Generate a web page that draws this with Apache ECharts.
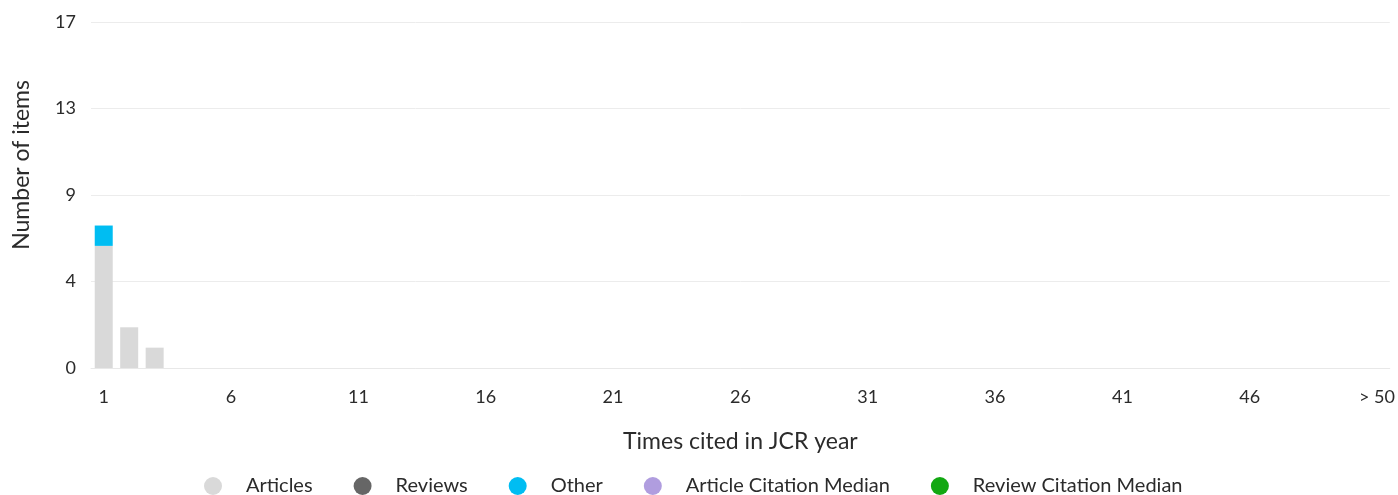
<!DOCTYPE html>
<html>
<head>
<meta charset="utf-8">
<script src="https://cdn.jsdelivr.net/npm/echarts@6/dist/echarts.min.js"></script>
<style>
html,body{margin:0;padding:0;background:#fff;}
#chart{width:1398px;height:495px;}
</style>
</head>
<body>
<div id="chart"></div>
<script>
const categories = ['1','2','3','4','5','6','7','8','9','10','11','12','13','14','15','16','17','18','19','20','21','22','23','24','25','26','27','28','29','30','31','32','33','34','35','36','37','38','39','40','41','42','43','44','45','46','47','48','49','50','> 50'];
const articles = [6,2,1,0,0,0,0,0,0,0,0,0,0,0,0,0,0,0,0,0,0,0,0,0,0,0,0,0,0,0,0,0,0,0,0,0,0,0,0,0,0,0,0,0,0,0,0,0,0,0,0];
const reviews  = [0,0,0,0,0,0,0,0,0,0,0,0,0,0,0,0,0,0,0,0,0,0,0,0,0,0,0,0,0,0,0,0,0,0,0,0,0,0,0,0,0,0,0,0,0,0,0,0,0,0,0];
const other    = [1,0,0,0,0,0,0,0,0,0,0,0,0,0,0,0,0,0,0,0,0,0,0,0,0,0,0,0,0,0,0,0,0,0,0,0,0,0,0,0,0,0,0,0,0,0,0,0,0,0,0];
const yTickLabels = ['0','4','9','13','17'];
const yMax = 17;

const FONT = 'Lato';
const chart = echarts.init(document.getElementById('chart'), null, {renderer:'canvas'});
chart.setOption({
  animation:false,
  textStyle:{fontFamily:FONT},
  grid:{left:91,right:8,top:22,bottom:127,containLabel:false},
  legend:{
    top:476, left:204, padding:0, icon:'circle', itemWidth:18, itemHeight:18, itemGap:41,
    textStyle:{fontSize:20,color:'#2b2b2b',padding:[0,0,0,19]},
    data:['Articles','Reviews','Other','Article Citation Median','Review Citation Median']
  },
  xAxis:{
    type:'category', data:categories,
    name:'Times cited in JCR year', nameLocation:'middle', nameGap:62,
    nameTextStyle:{fontSize:23,color:'#2b2b2b'},
    axisLine:{lineStyle:{color:'#e8e8e8'}},
    axisTick:{show:false},
    axisLabel:{interval:4,fontSize:18,color:'#2b2b2b',margin:20}
  },
  yAxis:{
    type:'value', min:0, max:yMax, interval:yMax/4,
    axisLabel:{fontSize:18,color:'#2b2b2b',margin:15,
      formatter:function(v){return yTickLabels[Math.round(v/(yMax/4))];}},
    splitLine:{lineStyle:{color:'#ececec'}},
    axisLine:{show:false}, axisTick:{show:false}
  },
  graphic:[{
    type:'text', left:10, top:80, rotation:Math.PI/2,
    style:{text:'Number of items', fontSize:23, fill:'#2b2b2b', fontFamily:FONT}
  }],
  series:[
    {name:'Articles',type:'bar',stack:'a',data:articles,barWidth:18,itemStyle:{color:'#d9d9d9'}},
    {name:'Reviews',type:'bar',stack:'a',data:reviews,barWidth:18,itemStyle:{color:'#666666'}},
    {name:'Other',type:'bar',stack:'a',data:other,barWidth:18,itemStyle:{color:'#00bdf2'}},
    {name:'Article Citation Median',type:'line',data:[],itemStyle:{color:'#b09ddf'}},
    {name:'Review Citation Median',type:'line',data:[],itemStyle:{color:'#12a812'}}
  ]
});
</script>
</body>
</html>
